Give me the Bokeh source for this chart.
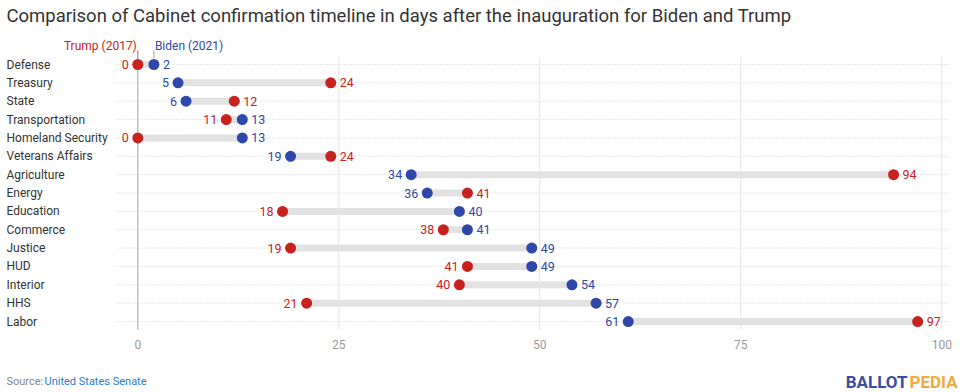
from bokeh.plotting import figure
from bokeh.layouts import column
from bokeh.models import Range1d, Label, FixedTicker
from bokeh.core.properties import value
from bokeh.embed import file_html
from bokeh.resources import INLINE

# ---------------- data ----------------
categories = ["Defense", "Treasury", "State", "Transportation", "Homeland Security",
              "Veterans Affairs", "Agriculture", "Energy", "Education", "Commerce",
              "Justice", "HUD", "Interior", "HHS", "Labor"]
trump_days = [0, 24, 12, 11, 0, 24, 94, 41, 18, 38, 19, 41, 40, 21, 97]
biden_days = [2, 5, 6, 13, 13, 19, 34, 36, 40, 41, 49, 49, 54, 57, 61]
x_ticks = [0, 25, 50, 75, 100]
title_text = "Comparison of Cabinet confirmation timeline in days after the inauguration for Biden and Trump"
trump_label = "Trump (2017)"
biden_label = "Biden (2021)"
source_prefix = "Source: "
source_name = "United States Senate"
brand_a = "BALLOT"
brand_b = "PEDIA"

# ---------------- style ----------------
RED = "#c8221e"
BLUE = "#2f47a8"
FONT = "Roboto"
W, H = 970, 392
H_MAIN = 360
PX_PER_UNIT = 8.04
X0_PAGE = 137.3
ROW0_PAGE = 64.0
ROW_STEP = 18.36
FRAME_BOTTOM_PAGE = 330


def xd(page_x):
    return (page_x - X0_PAGE) / PX_PER_UNIT


def yd(page_y):
    return (page_y - ROW0_PAGE) / ROW_STEP


p = figure(width=W, height=H_MAIN, output_backend="svg", toolbar_location=None,
           x_range=Range1d(xd(0), xd(W)),
           y_range=Range1d(yd(FRAME_BOTTOM_PAGE), yd(0)),
           y_axis_location=None,
           min_border_left=0, min_border_right=0, min_border_top=0,
           min_border_bottom=H_MAIN - FRAME_BOTTOM_PAGE)
p.outline_line_color = None
p.xgrid.grid_line_color = None
p.ygrid.grid_line_color = None
p.background_fill_color = "white"
p.border_fill_color = "white"

ax = p.xaxis[0]
ax.ticker = FixedTicker(ticks=x_ticks)
ax.axis_line_color = None
ax.major_tick_line_color = None
ax.minor_tick_line_color = None
ax.major_label_text_color = "#9a9a9a"
ax.major_label_text_font = FONT
ax.major_label_text_font_size = "12px"
ax.major_label_standoff = 3

rows = list(range(len(categories)))
n = len(rows)

# dotted row guides
p.segment(x0=[xd(116)] * n, x1=[xd(948)] * n, y0=rows, y1=rows,
          line_color="#cfcfcf", line_width=1, line_dash="1 2")

# vertical grid
grid_x = [t for t in x_ticks if t != 0]
p.segment(x0=grid_x, x1=grid_x, y0=[yd(57)] * len(grid_x), y1=[yd(329)] * len(grid_x),
          line_color="#e3e3e3", line_width=1)
# zero line + legend ticks
p.segment(x0=[0], x1=[0], y0=[yd(50)], y1=[yd(329)], line_color="#a0a0a0", line_width=1)
p.segment(x0=[trump_days[0], biden_days[0]], x1=[trump_days[0], biden_days[0]],
          y0=[yd(50)] * 2, y1=[yd(58)] * 2, line_color="#a0a0a0", line_width=1)

# range bars
p.segment(x0=trump_days, x1=biden_days, y0=rows, y1=rows,
          line_color="#e2e2e2", line_width=7)

# dots
p.scatter(x=trump_days, y=rows, size=11, fill_color=RED, line_color=None)
p.scatter(x=biden_days, y=rows, size=11, fill_color=BLUE, line_color=None)

# value labels
lx, lt, lc, rx, rt, rc = [], [], [], [], [], []
for t, b in zip(trump_days, biden_days):
    if t <= b:
        lo, loc, hi, hic = t, RED, b, BLUE
    else:
        lo, loc, hi, hic = b, BLUE, t, RED
    lx.append(lo); lt.append(str(lo)); lc.append(loc)
    rx.append(hi); rt.append(str(hi)); rc.append(hic)

p.text(x=lx, y=rows, text=lt, text_color=lc, text_align="right", text_baseline="middle",
       x_offset=-9, text_font=value(FONT), text_font_size="12.5px")
p.text(x=rx, y=rows, text=rt, text_color=rc, text_align="left", text_baseline="middle",
       x_offset=9, text_font=value(FONT), text_font_size="12.5px")

# category labels
p.text(x=[xd(6)] * n, y=rows, text=categories, text_color="#333333", text_align="left",
       text_baseline="middle", text_font=value(FONT), text_font_size="12px")

# title
p.add_layout(Label(x=xd(6), y=yd(15), text=title_text, text_color="#333333",
                   text_font=FONT, text_font_size="18.5px", text_baseline="middle",
                   text_align="left"))

# legend labels
p.add_layout(Label(x=trump_days[0], y=yd(45), text=trump_label, text_color=RED,
                   text_font=FONT, text_font_size="12px", text_baseline="middle",
                   text_align="right", x_offset=-1))
p.add_layout(Label(x=biden_days[0], y=yd(45), text=biden_label, text_color=BLUE,
                   text_font=FONT, text_font_size="12px", text_baseline="middle",
                   text_align="left", x_offset=1))

# ---------------- footer figure ----------------
H_FOOT = H - H_MAIN
f = figure(width=W, height=H_FOOT, output_backend="svg", toolbar_location=None,
           x_range=Range1d(0, W), y_range=Range1d(H_FOOT, 0),
           x_axis_location=None, y_axis_location=None,
           min_border_left=0, min_border_right=0, min_border_top=0, min_border_bottom=0)
f.outline_line_color = None
f.xgrid.grid_line_color = None
f.ygrid.grid_line_color = None

fy = 381 - H_MAIN
f.add_layout(Label(x=6, y=fy, text=source_prefix,
                   text_color="#888888", text_font=FONT, text_font_size="11px",
                   text_baseline="middle", text_align="left"))
f.add_layout(Label(x=44, y=fy, text=source_name,
                   text_color="#2a7dd1", text_font=FONT, text_font_size="11px",
                   text_baseline="middle", text_align="left"))
f.add_layout(Label(x=907, y=fy, text=brand_a,
                   text_color="#3a4da1", text_font=FONT, text_font_size="17px",
                   text_font_style="bold", text_baseline="middle", text_align="right"))
f.add_layout(Label(x=909, y=fy, text=brand_b,
                   text_color="#f4a93a", text_font=FONT, text_font_size="17px",
                   text_font_style="bold", text_baseline="middle", text_align="left"))

layout = column(p, f, spacing=0)
open("out.html", "w").write(file_html(layout, INLINE))
